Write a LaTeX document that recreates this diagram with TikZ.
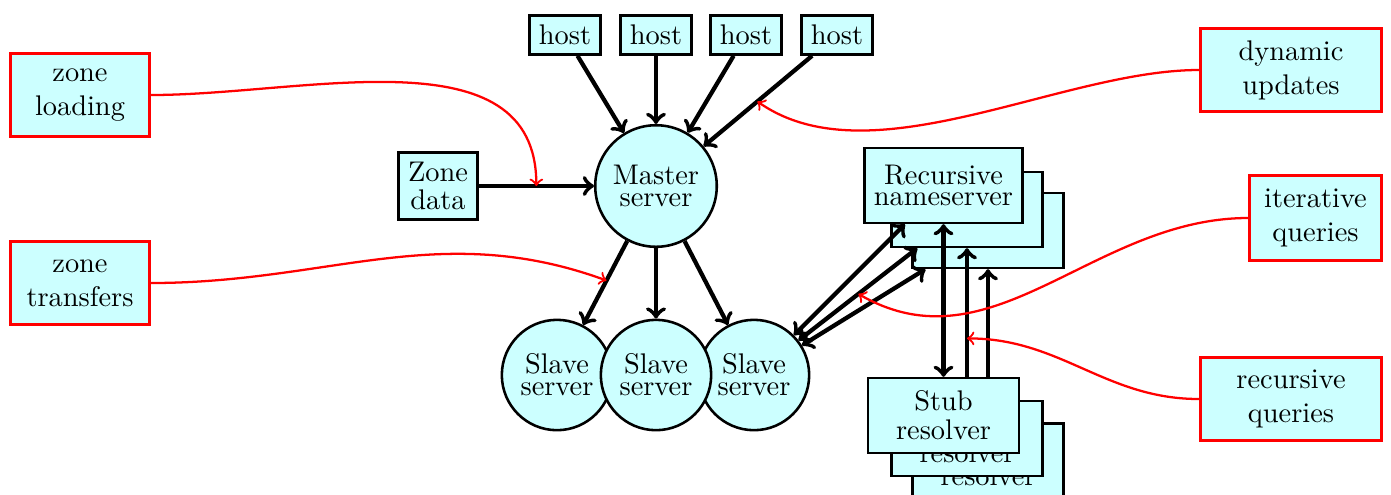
\documentclass[tikz,border=0pt]{standalone}
\usetikzlibrary{calc}

\definecolor{paleCyan}{rgb}{0.8,1,1}

\tikzset{
  base/.style={draw, line width=0.9pt, fill=paleCyan, inner sep=3.333pt},
  box/.style={base, rectangle},
  srv/.style={base, circle},
  stackbox/.style={box, minimum width=53.2pt, minimum height=26.3pt},
  note/.style={rectangle, draw=red, line width=1.2pt, fill=paleCyan,
               align=center, inner sep=0pt, minimum height=29.4pt},
  link/.style={->, line width=1.5pt},
  both/.style={<->, line width=1.5pt},
  remark/.style={->, red, line width=0.8pt},
}

\begin{document}
\begin{tikzpicture}[x=0.3521pt, y=0.3521pt]
  \useasboundingbox (0,0) rectangle (1391,-494);

  % hosts feeding the master
  \node[box] (h1) at (565,-35) {host};
  \node[box] (h2) at (656,-35) {host};
  \node[box] (h3) at (746,-35) {host};
  \node[box] (h4) at (837,-35) {host};

  \node[srv, minimum size=42.8pt] (master) at (656,-186) {\shortstack{Master\\server}};
  \node[box] (zone) at (438,-186) {\shortstack{Zone\\data}};

  % slaves, the middle one drawn last so it sits on top
  \node[srv, minimum size=38.5pt] (s1) at (557,-375) {\shortstack{Slave\\server}};
  \node[srv, minimum size=38.5pt] (s3) at (754,-375) {\shortstack{Slave\\server}};
  \node[srv, minimum size=38.5pt] (s2) at (656,-375) {\shortstack{Slave\\server}};

  % stacked recursive nameservers and stub resolvers (back copies)
  \node[stackbox] (rec3) at (988,-230.5) {};
  \node[stackbox] (stub3) at (988,-461) {\shortstack{Stub\\resolver}};
  \node[stackbox] (rec2) at (967,-209.5) {};
  \node[stackbox] (stub2) at (967,-438.5) {\shortstack{Stub\\resolver}};
  \draw[both] (rec3) -- (stub3);
  \draw[both] (rec2) -- (stub2);

  % front copies
  \node[stackbox] (rec1) at (943.5,-185.5) {\shortstack{Recursive\\nameserver}};
  \node[stackbox] (stub1) at (943.5,-415.5) {\shortstack{Stub\\resolver}};
  \draw[both] (rec1) -- (stub1);

  % slave talking to the recursive servers
  \draw[both] (s3) -- (rec1);
  \draw[both] (s3) -- (rec2);
  \draw[both] (s3) -- (rec3);

  % updates and transfers
  \foreach \h in {h1,h2,h3,h4} \draw[link] (\h) -- (master);
  \draw[link] (zone) -- (master);
  \foreach \s in {s1,s2,s3} \draw[link] (master) -- (\s);

  % annotations
  \node[note, minimum width=48.8pt] (zl) at (80,-95) {zone\\loading};
  \node[note, minimum width=48.8pt] (zt) at (80,-283) {zone\\transfers};
  \node[note, minimum width=63.6pt] (du) at (1291,-70) {dynamic\\updates};
  \node[note, minimum width=46.3pt, minimum height=29.8pt] (iq) at (1315.5,-218) {iterative\\queries};
  \node[note, minimum width=63.6pt] (rq) at (1291,-399) {recursive\\queries};

  \coordinate (loadpt) at ($(zone.east)!0.5!(master.west)$);
  \coordinate (xferpt) at ($(master)!0.5!(s1)$);
  \coordinate (updpt) at ($(h4)!0.44!(master)$);
  \coordinate (iterpt) at ($(s3)!0.49!(rec2)$);
  \coordinate (recpt) at ($(rec2.south)!0.595!(stub2.north)$);

  \draw[remark] (zl.east) to[out=0, in=90] (loadpt);
  \draw[remark] (zt.east) to[out=0, in=160] (xferpt);
  \draw[remark] (du.west) to[out=180, in=-35, looseness=0.8] (updpt);
  \draw[remark] (iq.west) to[out=180, in=-30] (iterpt);
  \draw[remark] (rq.west) to[out=180, in=0] (recpt);
\end{tikzpicture}
\end{document}
